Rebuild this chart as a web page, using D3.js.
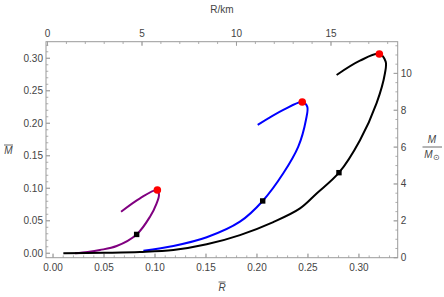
<!DOCTYPE html>
<html>
<head>
<meta charset="utf-8">
<script src="https://cdn.jsdelivr.net/npm/d3@7"></script>
<style>
  body { margin: 0; background: #fff; }
  svg { display: block; font-family: "Liberation Sans", Arial, sans-serif; }
</style>
</head>
<body>
<svg width="444" height="297"></svg>
<script>
// кривые M(R): [Rbar, Mbar]
const purpleCurve = [
    [0.0216, 0.000], [0.034, 0.002], [0.046, 0.005], [0.0624, 0.0112], [0.082, 0.029],
    [0.0951, 0.0563], [0.1016, 0.0769], [0.1039, 0.0897], [0.1023, 0.0974],
    [0.0853, 0.0846], [0.0667, 0.064]
];
const blueCurve = [
    [0.0886, 0.004], [0.118, 0.0112], [0.1507, 0.0246], [0.1833, 0.0486], [0.2056, 0.0805],
    [0.2258, 0.123], [0.2405, 0.164], [0.248, 0.205], [0.2493, 0.2255],
    [0.2444, 0.2328], [0.2258, 0.2205], [0.2007, 0.1974]
];
const blackCurve = [
    [0.0101, 0.000], [0.05, 0.0008], [0.0853, 0.002], [0.118, 0.005], [0.1507, 0.0138],
    [0.1833, 0.028], [0.216, 0.048], [0.2422, 0.069], [0.2585, 0.092],
    [0.2804, 0.124], [0.301, 0.174], [0.3173, 0.231], [0.3255, 0.277],
    [0.3262, 0.2948], [0.320, 0.3066], [0.301, 0.2963], [0.2781, 0.2743]
];
const curveColors = ["#800080", "#0000ff", "#000000"];

// максимумы (красные точки) и отмеченные точки (квадраты)
const maxPoints = [[0.1023, 0.0974], [0.2444, 0.2328], [0.320, 0.3066]];
const squarePoints = [[0.082, 0.029], [0.2056, 0.0805], [0.2804, 0.124]];

// подписи делений
const xTicks = [0, 0.05, 0.10, 0.15, 0.20, 0.25, 0.30];
const yTicks = [0, 0.05, 0.10, 0.15, 0.20, 0.25, 0.30];
const topTicks = [0, 5, 10, 15];
const rightTicks = [0, 2, 4, 6, 8, 10];

const svg = d3.select("svg");
const plotLeft = 46, plotRight = 397.7, plotTop = 41.7, plotBottom = 257.7;

const x = d3.scaleLinear().domain([-0.0069, 0.338]).range([plotLeft, plotRight]);
const y = d3.scaleLinear().domain([-0.0068, 0.3255]).range([plotBottom, plotTop]);
const xTop = d3.scaleLinear().domain([-0.08, 18.53]).range([plotLeft, plotRight]);
const yRight = d3.scaleLinear().domain([0, 11.72]).range([plotBottom, plotTop]);

const frameColor = "#9a9a9a";
const labelColor = "#444";

// деления, направленные внутрь
function ticks(scale, major, minor, side, fmt) {
    const g = svg.append("g");
    const len = (v) => major.some(m => Math.abs(m - v) < 1e-9) ? 4 : 2.3;
    const all = minor.concat(major);
    all.forEach(v => {
        const p = scale(v);
        const l = len(v);
        let x1, y1, x2, y2;
        if (side === "bottom") { x1 = x2 = p; y1 = plotBottom; y2 = plotBottom - l; }
        if (side === "top") { x1 = x2 = p; y1 = plotTop; y2 = plotTop + l; }
        if (side === "left") { y1 = y2 = p; x1 = plotLeft; x2 = plotLeft + l; }
        if (side === "right") { y1 = y2 = p; x1 = plotRight; x2 = plotRight - l; }
        g.append("line").attr("x1", x1).attr("y1", y1).attr("x2", x2).attr("y2", y2)
            .attr("stroke", frameColor).attr("stroke-width", 0.8);
    });
    major.forEach(v => {
        const p = scale(v);
        const t = g.append("text").text(fmt(v))
            .attr("font-size", 10).attr("fill", labelColor);
        if (side === "bottom") t.attr("x", p).attr("y", plotBottom + 13).attr("text-anchor", "middle");
        if (side === "top") t.attr("x", p).attr("y", plotTop - 5).attr("text-anchor", "middle");
        if (side === "left") t.attr("x", plotLeft - 3).attr("y", p + 3.5).attr("text-anchor", "end");
        if (side === "right") t.attr("x", plotRight + 3).attr("y", p + 3.5).attr("text-anchor", "start");
    });
}

const minorX = d3.range(0, 0.335, 0.01);
const minorTop = d3.range(0, 19, 1);
const minorRight = d3.range(0, 11.6, 0.5);

ticks(x, xTicks, minorX, "bottom", d3.format(".2f"));
ticks(y, yTicks, minorX.filter(v => v < 0.325), "left", d3.format(".2f"));
ticks(xTop, topTicks, minorTop, "top", d3.format("d"));
ticks(yRight, rightTicks, minorRight, "right", d3.format("d"));

svg.append("rect")
    .attr("x", plotLeft).attr("y", plotTop)
    .attr("width", plotRight - plotLeft).attr("height", plotBottom - plotTop)
    .attr("fill", "none").attr("stroke", frameColor).attr("stroke-width", 1);

// кривые
const line = d3.line()
    .x(d => x(d[0]))
    .y(d => y(d[1]))
    .curve(d3.curveCatmullRom.alpha(0.5));

[purpleCurve, blueCurve, blackCurve].forEach((data, i) => {
    svg.append("path")
        .attr("d", line(data))
        .attr("fill", "none")
        .attr("stroke", curveColors[i])
        .attr("stroke-width", 2);
});

svg.selectAll("rect.sq")
    .data(squarePoints)
    .enter().append("rect")
    .attr("class", "sq")
    .attr("x", d => x(d[0]) - 2.7).attr("y", d => y(d[1]) - 2.7)
    .attr("width", 5.4).attr("height", 5.4)
    .attr("fill", "#000");

svg.selectAll("circle.mx")
    .data(maxPoints)
    .enter().append("circle")
    .attr("class", "mx")
    .attr("cx", d => x(d[0])).attr("cy", d => y(d[1]))
    .attr("r", 3.8)
    .attr("fill", "#ff0000");

// подписи осей
svg.append("text").text("R/km")
    .attr("x", 222).attr("y", 13).attr("text-anchor", "middle")
    .attr("font-size", 10).attr("fill", labelColor);

svg.append("text").text("R")
    .attr("x", 222).attr("y", 291).attr("text-anchor", "middle")
    .attr("font-size", 10).attr("font-style", "italic").attr("fill", labelColor);
svg.append("line")
    .attr("x1", 218.5).attr("x2", 225.5).attr("y1", 282).attr("y2", 282)
    .attr("stroke", labelColor).attr("stroke-width", 0.8);

svg.append("text").text("M")
    .attr("x", 8.5).attr("y", 154).attr("text-anchor", "middle")
    .attr("font-size", 10).attr("font-style", "italic").attr("fill", labelColor);
svg.append("line")
    .attr("x1", 4).attr("x2", 13).attr("y1", 145).attr("y2", 145)
    .attr("stroke", labelColor).attr("stroke-width", 0.8);

svg.append("text").text("M")
    .attr("x", 432).attr("y", 143).attr("text-anchor", "middle")
    .attr("font-size", 10).attr("font-style", "italic").attr("fill", labelColor);
svg.append("line")
    .attr("x1", 422.5).attr("x2", 442).attr("y1", 147).attr("y2", 147)
    .attr("stroke", labelColor).attr("stroke-width", 0.8);
const msun = svg.append("text")
    .attr("x", 432).attr("y", 157.5).attr("text-anchor", "middle")
    .attr("font-size", 10).attr("fill", labelColor);
msun.append("tspan").text("M").attr("font-style", "italic");
msun.append("tspan").text("⊙").attr("font-size", 8).attr("dy", 2);
</script>
</body>
</html>
